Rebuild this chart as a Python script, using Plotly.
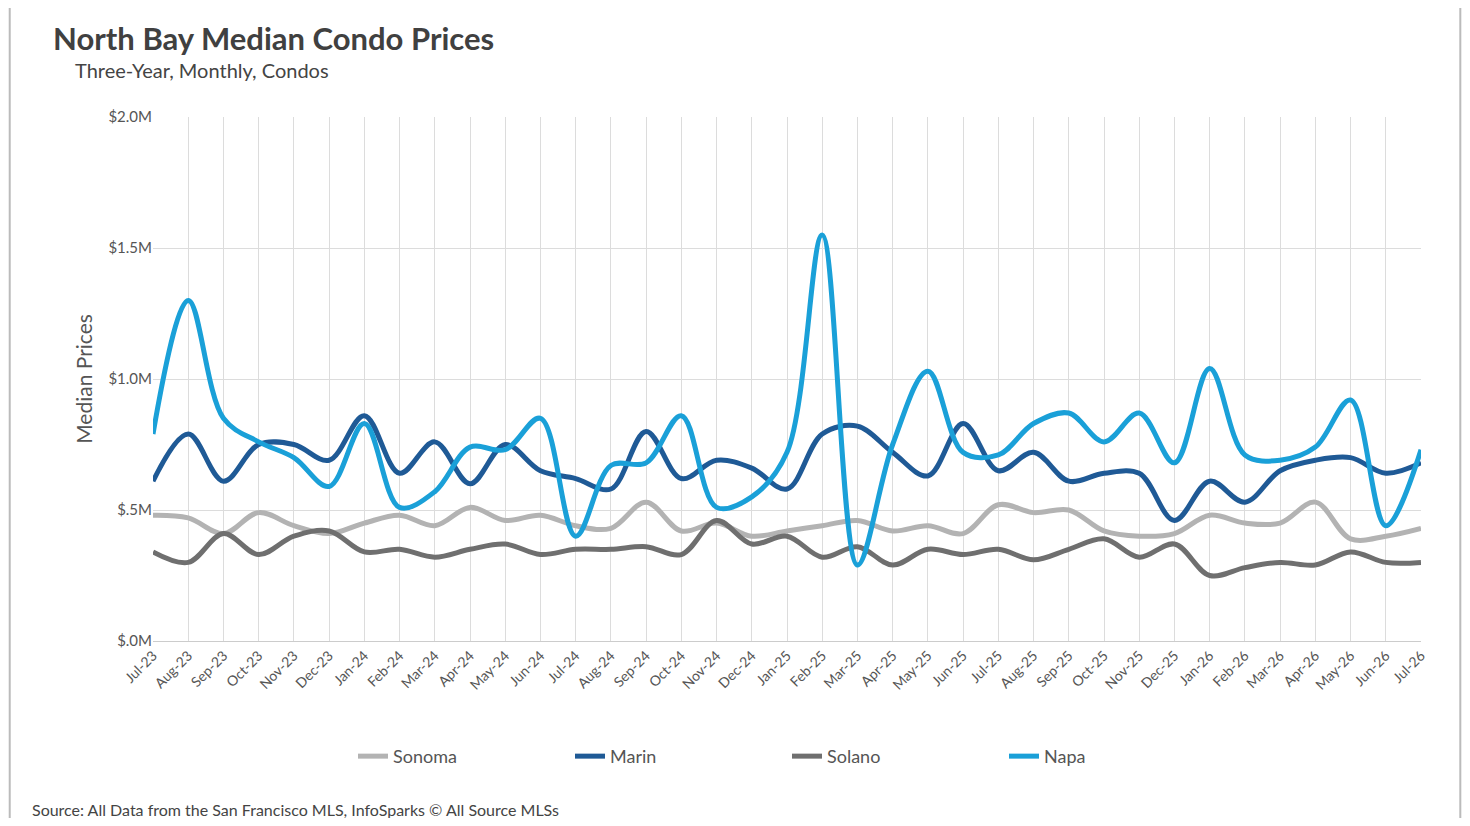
import plotly.graph_objects as go

months = ["Jul-23", "Aug-23", "Sep-23", "Oct-23", "Nov-23", "Dec-23", "Jan-24", "Feb-24", "Mar-24",
          "Apr-24", "May-24", "Jun-24", "Jul-24", "Aug-24", "Sep-24", "Oct-24", "Nov-24", "Dec-24",
          "Jan-25", "Feb-25", "Mar-25", "Apr-25", "May-25", "Jun-25", "Jul-25", "Aug-25", "Sep-25",
          "Oct-25", "Nov-25", "Dec-25", "Jan-26", "Feb-26", "Mar-26", "Apr-26", "May-26", "Jun-26", "Jul-26"]

# values in $M
sonoma = [0.48, 0.47, 0.41, 0.49, 0.44, 0.41, 0.45, 0.48, 0.44, 0.51, 0.46, 0.48, 0.44, 0.43, 0.53, 0.42, 0.45,
          0.40, 0.42, 0.44, 0.46, 0.42, 0.44, 0.41, 0.52, 0.49, 0.50, 0.42, 0.40, 0.41, 0.48, 0.45, 0.45, 0.53,
          0.39, 0.40, 0.43]
marin = [0.61, 0.79, 0.61, 0.75, 0.75, 0.69, 0.86, 0.64, 0.76, 0.60, 0.75, 0.65, 0.62, 0.58, 0.80, 0.62, 0.69,
         0.66, 0.58, 0.79, 0.82, 0.72, 0.63, 0.83, 0.65, 0.72, 0.61, 0.64, 0.64, 0.46, 0.61, 0.53, 0.65, 0.69,
         0.70, 0.64, 0.68]
solano = [0.34, 0.30, 0.41, 0.33, 0.40, 0.42, 0.34, 0.35, 0.32, 0.35, 0.37, 0.33, 0.35, 0.35, 0.36, 0.33, 0.46,
          0.37, 0.40, 0.32, 0.36, 0.29, 0.35, 0.33, 0.35, 0.31, 0.35, 0.39, 0.32, 0.37, 0.25, 0.28, 0.30, 0.29,
          0.34, 0.30, 0.30]
napa = [0.79, 1.30, 0.85, 0.76, 0.70, 0.59, 0.83, 0.51, 0.57, 0.74, 0.73, 0.85, 0.40, 0.67, 0.68, 0.86, 0.51,
        0.55, 0.72, 1.55, 0.29, 0.75, 1.03, 0.72, 0.71, 0.83, 0.87, 0.76, 0.87, 0.68, 1.04, 0.71, 0.69, 0.74,
        0.92, 0.44, 0.73]

series = [("Sonoma", sonoma, "#b3b3b3"), ("Marin", marin, "#1f5a96"),
          ("Solano", solano, "#6f6f6f"), ("Napa", napa, "#1aa0d8")]

fig = go.Figure()
for name, vals, color in series:
    fig.add_scatter(x=months, y=vals, name=name, mode="lines", line_shape="spline",
                    line=dict(color=color, width=5))

fig.update_layout(
    width=1454, height=810,
    font=dict(family="Lato", color="#555555"),
    paper_bgcolor="white", plot_bgcolor="white",
    margin=dict(l=145, r=41, t=109, b=177),
    title=dict(text="<b>North Bay Median Condo Prices</b>", x=0.031, y=0.975, xanchor="left",
               font=dict(size=31, color="#404040")),
    legend=dict(orientation="h", x=0.5, xanchor="center", y=-0.185, yanchor="top",
                font=dict(size=18), entrywidthmode="pixels", entrywidth=172),
    showlegend=True,
)
fig.update_xaxes(showgrid=True, gridcolor="#dcdcdc", tickangle=-45, tickfont=dict(size=14),
                 showline=True, linecolor="#cccccc", range=[0, 36], ticks="")
fig.update_yaxes(range=[0, 2.0], tickvals=[0, 0.5, 1.0, 1.5, 2.0],
                 ticktext=["$.0M", "$.5M", "$1.0M", "$1.5M", "$2.0M"],
                 showgrid=True, gridcolor="#dcdcdc", tickfont=dict(size=15), zeroline=False,
                 title=dict(text="Median Prices", font=dict(size=21), standoff=10))
fig.add_annotation(text="Three-Year, Monthly, Condos", xref="paper", yref="paper",
                   x=-0.063, y=1.09, xanchor="left", yanchor="middle", showarrow=False,
                   font=dict(size=20, color="#444444"))
fig.add_annotation(text="Source: All Data from the San Francisco MLS, InfoSparks © All Source MLSs",
                   xref="paper", yref="paper", x=-0.097, y=-0.322, xanchor="left", yanchor="middle",
                   showarrow=False, font=dict(size=16, color="#444444"))
fig.add_shape(type="rect", xref="paper", yref="paper", x0=-0.113, x1=1.031, y0=-0.345, y1=1.212,
              line=dict(color="#bbbbbb", width=2))

fig.write_html("out.html")
